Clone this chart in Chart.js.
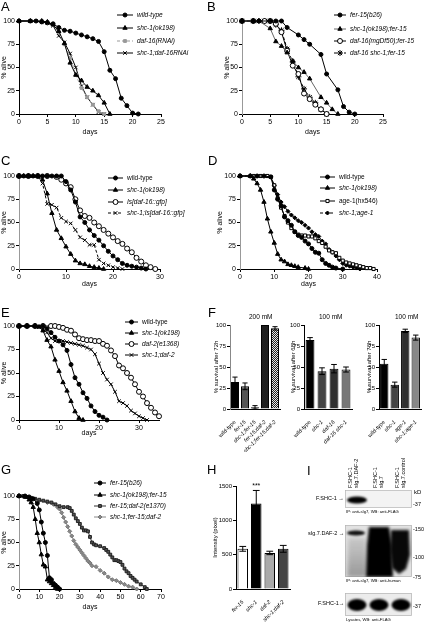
<!DOCTYPE html>
<html>
<head>
<meta charset="utf-8">
<script src="https://cdn.jsdelivr.net/npm/chart.js@4.4.0/dist/chart.umd.min.js"></script>
<style>
  body { margin: 0; background: #fff; }
  #fig { position: relative; width: 426px; height: 626px; overflow: hidden; background: #fff;
         font-family: "Liberation Sans", Arial, Helvetica, sans-serif; color: #000; }
  .cv { position: absolute; }
  .letter { position: absolute; font-size: 13px; line-height: 13px; }
  .t { position: absolute; white-space: nowrap; line-height: 1; }
</style>
</head>
<body>
<div id="fig"></div>
<script>
// ---- survival data: [day, % alive] ----
const aWildType = [[0,100],[2,100],[3,100],[4,99],[5,98],[6,97],[7,93],[8,90],[9,89],[10,87],[11,85],[12,83],[13,81],[14,78],[15,67],[16,47],[17,38],[18,17],[19,9],[20,1],[21,0]];
const aShc1 = [[0,100],[2,100],[4,100],[5,99],[6,96],[7,89],[8,76],[9,55],[10,42],[11,36],[12,29],[13,25],[14,20],[15,12],[16,0]];
const aDaf16 = [[0,100],[2,100],[3,100],[4,100],[5,99],[6,96],[7,88],[8,75],[9,60],[10,42],[11,28],[12,18],[13,10],[14,3],[15,0]];
const aShc1Daf16 = [[0,100],[2,100],[4,99],[5,98],[6,95],[7,84],[8,77],[9,65],[10,50],[11,30],[12,18],[13,10],[14,2],[15,0]];

const bFer15 = [[0,100],[2,100],[3,100],[5,100],[6,100],[7,100],[8,93],[10,85],[11,80],[12,75],[14,64],[15,43],[17,26],[18,8],[19,2],[20,0]];
const bShc1Fer15 = [[0,100],[2,100],[3,100],[5,92],[6,78],[7,73],[8,66],[9,57],[10,50],[11,45],[12,38],[14,18],[15,12],[16,5],[17,0]];
const bDaf16Fer15 = [[0,100],[2,100],[4,100],[5,100],[6,97],[7,88],[8,68],[9,52],[10,43],[11,22],[12,16],[13,10],[14,5],[15,0]];
const bDaf16Shc1Fer15 = [[0,100],[2,100],[3,100],[4,100],[5,100],[6,96],[7,90],[8,70],[9,56],[10,40],[11,27],[12,18],[13,12],[14,5],[15,0]];

const cWildType = [[0,100],[1,100],[2,100],[3,100],[4,100],[5,100],[6,100],[7,100],[8,100],[9,100],[10,94],[11,85],[12,72],[13,56],[14,50],[15,42],[16,36],[17,31],[18,25],[19,19],[20,14],[21,10],[22,6],[23,4],[24,3],[25,2],[26,1],[27,0]];
const cShc1 = [[0,100],[1,100],[2,100],[3,100],[4,100],[5,96],[6,81],[7,60],[8,42],[9,33],[10,24],[11,16],[12,9],[13,6],[14,5],[15,3],[16,2],[17,1],[18,0]];
const cIsDaf16 = [[0,100],[2,100],[4,100],[6,100],[8,99],[9,96],[10,92],[11,88],[12,75],[13,63],[14,57],[15,55],[16,50],[17,46],[18,42],[19,38],[20,34],[21,30],[22,27],[23,22],[24,18],[25,12],[26,8],[27,4],[28,2],[29,0]];
const cShc1IsDaf16 = [[0,100],[2,100],[4,100],[5,92],[6,70],[7,69],[8,66],[9,55],[10,51],[11,49],[12,42],[13,34],[14,31],[15,26],[16,26],[17,10],[18,6],[19,4],[20,2],[21,1],[22,0]];

const dWildType = [[0,100],[3,100],[5,100],[7,100],[9,99],[10,85],[11,75],[12,68],[13,56],[14,52],[15,47],[16,40],[17,36],[18,34],[19,30],[20,27],[21,22],[22,18],[23,17],[24,10],[25,6],[26,4],[27,2],[28,1],[30,0]];
const dShc1 = [[0,100],[3,100],[4,97],[5,92],[6,85],[7,72],[8,54],[9,40],[10,28],[11,16],[12,10],[13,8],[14,5],[15,4],[16,3],[17,2],[19,1],[20,0]];
const dAge1 = [[0,100],[4,100],[6,100],[8,100],[9,99],[10,90],[11,76],[12,66],[13,57],[14,50],[15,44],[16,40],[17,37],[18,36],[19,36],[20,35],[21,35],[22,33],[23,30],[24,28],[25,24],[26,20],[27,18],[28,17],[29,12],[30,9],[31,7],[32,6],[33,5],[34,4],[35,3],[36,2],[37,1],[38,1],[39,0]];
const dShc1Age1 = [[0,100],[5,100],[8,100],[9,99],[10,90],[11,80],[12,72],[13,67],[14,62],[15,58],[16,55],[17,52],[18,50],[19,47],[20,44],[21,40],[22,37],[23,35],[24,30],[25,27],[26,21],[27,18],[28,14],[29,10],[30,6],[31,4],[32,3],[33,2],[34,1],[35,0]];

const eWildType = [[0,100],[2,100],[4,100],[6,100],[7,97],[8,93],[9,88],[10,84],[11,80],[12,74],[13,59],[14,45],[15,38],[16,29],[17,23],[18,15],[19,9],[20,5],[21,3],[22,0]];
const eShc1 = [[0,100],[2,100],[4,100],[5,99],[6,95],[7,85],[8,78],[9,64],[10,52],[11,40],[12,31],[13,20],[14,9],[15,2],[16,0]];
const eDaf2 = [[0,100],[2,100],[4,100],[6,100],[8,100],[9,100],[10,99],[11,98],[12,96],[13,95],[14,91],[15,87],[16,86],[17,85],[18,85],[19,84],[20,84],[21,81],[22,79],[23,74],[24,68],[25,58],[26,55],[27,50],[28,45],[29,38],[30,30],[31,25],[32,18],[33,13],[34,8],[35,4],[36,0]];
const eShc1Daf2 = [[0,100],[2,100],[4,100],[5,99],[6,97],[7,93],[8,87],[9,84],[10,84],[11,84],[12,83],[13,82],[14,81],[15,80],[16,79],[17,77],[18,75],[19,70],[20,60],[21,50],[22,43],[23,38],[24,30],[25,20],[26,18],[27,15],[28,10],[29,7],[30,4],[31,2],[32,0]];

const gFer15 = [[0,100],[3,100],[5,99],[7,97],[9,92],[10,85],[11,72],[12,60],[13,50],[14,36],[15,12],[16,10],[17,6],[18,4],[19,2],[20,0]];
const gShc1Fer15 = [[0,100],[3,99],[5,96],[6,93],[7,88],[8,75],[9,60],[10,50],[11,37],[12,26],[13,24],[14,10],[15,8],[16,6],[17,4],[18,2],[19,0]];
const gFer15Daf2 = [[0,100],[2,100],[4,99],[6,98],[8,97],[10,96],[12,95],[14,94],[16,93],[18,91],[20,89],[22,88],[24,88],[25,87],[26,84],[27,80],[28,76],[29,73],[30,70],[31,66],[32,63],[33,63],[34,62],[35,56],[36,50],[37,48],[38,47],[40,46],[42,44],[43,42],[44,40],[45,37],[46,34],[47,31],[48,31],[49,30],[50,29],[51,26],[52,22],[53,19],[54,17],[55,14],[56,12],[57,10],[58,8],[60,5],[62,2],[63,0]];
const gShc1Fer15Daf2 = [[0,100],[3,99],[6,97],[10,95],[14,93],[17,91],[19,88],[20,86],[21,82],[22,77],[23,72],[24,67],[25,62],[26,57],[27,52],[28,48],[29,45],[30,42],[31,39],[32,36],[33,33],[34,30],[35,28],[36,25],[38,24],[40,20],[42,17],[44,13],[46,10],[48,9],[50,7],[52,5],[54,3],[56,2],[58,0]];

// ---- bar data ----
const fLabels1 = ['wild-type', 'fer-15', 'shc-1;fer-15', 'fer-15;daf-2', 'shc-1;fer-15;daf-2'];
const fValues1 = [32, 27, 2, 100, 96];
const fErrors1 = [6, 4, 2, 0, 2];
const fLabels2 = ['wild-type', 'shc-1', 'daf-16', 'daf-16 shc-1'];
const fValues2 = [82, 45, 48, 47];
const fErrors2 = [3, 4, 5, 3];
const fLabels3 = ['wild-type', 'shc-1', 'age-1', 'shc-1;age-1'];
const fValues3 = [54, 29, 93, 85];
const fErrors3 = [5, 3, 2, 3];
const hLabels = ['fer-15', 'shc-1', 'daf-2', 'shc-1;daf-2'];
const hValues = [585, 1245, 525, 585];
const hErrors = [35, 190, 25, 50];
const hStars = ['', '***', '', ''];
const pctTicks = [0, 25, 50, 75, 100];

Chart.defaults.font.family = '"Liberation Sans", Arial, Helvetica, sans-serif';
Chart.defaults.color = '#000';

const fig = document.getElementById('fig');

function addCanvas(l, t, w, h) {
  const c = document.createElement('canvas');
  c.width = w; c.height = h; c.className = 'cv';
  c.style.left = l + 'px'; c.style.top = t + 'px';
  c.style.width = w + 'px'; c.style.height = h + 'px';
  fig.appendChild(c);
  return c;
}

function addText(txt, x, y, size, extra) {
  const d = document.createElement('div');
  d.className = 't';
  d.textContent = txt;
  d.style.fontSize = size + 'px';
  d.style.left = x + 'px';
  d.style.top = y + 'px';
  if (extra) Object.assign(d.style, extra);
  fig.appendChild(d);
  return d;
}

// legend drawn Prism-style: line with the marker on it, then the name
const lineLegend = {
  id: 'lineLegend',
  afterDraw(chart, args, opts) {
    if (!opts || opts.x === undefined) return;
    const ctx = chart.ctx;
    chart.data.datasets.forEach((ds, i) => {
      const y = opts.y[i];
      ctx.save();
      ctx.lineWidth = 1;
      ctx.strokeStyle = ds.borderColor;
      ctx.setLineDash(ds.borderDash || []);
      ctx.beginPath();
      ctx.moveTo(opts.x, y);
      ctx.lineTo(opts.x + opts.len, y);
      ctx.stroke();
      ctx.setLineDash([]);
      ctx.fillStyle = ds.pointBackgroundColor;
      ctx.strokeStyle = ds.pointBorderColor;
      Chart.helpers.drawPoint(ctx, { pointStyle: ds.pointStyle, radius: ds.pointRadius, borderWidth: 1, rotation: 0 },
        opts.x + opts.len / 2, y);
      ctx.fillStyle = '#000';
      ctx.font = (ds.italic ? 'italic ' : '') + '6.5px "Liberation Sans", Arial, sans-serif';
      ctx.textBaseline = 'middle';
      ctx.textAlign = 'left';
      ctx.fillText(ds.label, opts.x + opts.len + 4, y + 0.5);
      ctx.restore();
    });
  }
};

const errorBars = {
  id: 'errorBars',
  afterDatasetsDraw(chart) {
    const ctx = chart.ctx, ys = chart.scales.y;
    chart.data.datasets.forEach((ds, i) => {
      if (!ds.errors) return;
      chart.getDatasetMeta(i).data.forEach((bar, j) => {
        const v = ds.data[j], e = ds.errors[j];
        const top = ys.getPixelForValue(v + e);
        const bot = ys.getPixelForValue(Math.max(0, v - e));
        const w = bar.width * 0.32;
        ctx.save();
        ctx.strokeStyle = '#000';
        ctx.lineWidth = 1;
        if (e > 0) {
          ctx.beginPath();
          ctx.moveTo(bar.x, top); ctx.lineTo(bar.x, bot);
          ctx.moveTo(bar.x - w, top); ctx.lineTo(bar.x + w, top);
          ctx.moveTo(bar.x - w, bot); ctx.lineTo(bar.x + w, bot);
          ctx.stroke();
        }
        if (ds.stars && ds.stars[j]) {
          ctx.fillStyle = '#000';
          ctx.font = '7px "Liberation Sans", Arial, sans-serif';
          ctx.textAlign = 'center';
          ctx.textBaseline = 'bottom';
          ctx.fillText(ds.stars[j], bar.x, top - 1);
        }
        ctx.restore();
      });
    });
  }
};

function survival(o) {
  const cv = addCanvas(o.left, o.top, o.width, o.height);
  const datasets = o.series.map(s => ({
    label: s.label,
    data: s.data.map(p => ({ x: p[0], y: p[1] })),
    borderColor: s.line || '#000',
    borderWidth: 1,
    borderDash: s.dash || [],
    pointStyle: s.style,
    pointRadius: s.r || 2,
    pointBackgroundColor: s.fill || '#000',
    pointBorderColor: s.edge || s.line || '#000',
    pointBorderWidth: 1,
    italic: s.italic !== false,
    fill: false,
    tension: 0,
    clip: false
  }));
  return new Chart(cv, {
    type: 'line',
    data: { datasets },
    options: {
      responsive: false, animation: false, events: [],
      layout: { padding: { left: 0, bottom: 0, top: o.plotT - o.top, right: o.left + o.width - o.plotR } },
      plugins: {
        legend: { display: false },
        tooltip: { enabled: false },
        lineLegend: { x: o.legend.x - o.left, len: o.legend.len, y: o.legend.y.map(v => v - o.top) }
      },
      scales: {
        x: {
          type: 'linear', min: 0, max: o.xMax,
          ticks: { stepSize: o.xStep, includeBounds: false, maxRotation: 0, font: { size: 7 }, padding: 1 },
          grid: { drawOnChartArea: false, drawTicks: true, tickLength: 3, color: '#000' },
          border: { color: '#000', width: 1 },
          title: { display: true, text: 'days', font: { size: 7 }, padding: 0 },
          afterFit: s => { s.height = o.top + o.height - o.plotB; s.paddingLeft = 0; s.paddingRight = 0; }
        },
        y: {
          min: 0, max: 100,
          afterBuildTicks: s => { s.ticks = pctTicks.map(v => ({ value: v })); },
          ticks: { font: { size: 7 }, padding: 1 },
          grid: { drawOnChartArea: false, drawTicks: true, tickLength: 3, color: '#000' },
          border: { color: o.yAxisColor || '#000', width: 1 },
          title: { display: true, text: '% alive', font: { size: 7 }, padding: { top: o.titlePad || 0, bottom: 0 } },
          afterFit: s => { s.width = o.plotL - o.left; s.paddingTop = 0; s.paddingBottom = 0; }
        }
      }
    },
    plugins: [lineLegend]
  });
}

function bars(o) {
  const cv = addCanvas(o.left, o.top, o.width, o.height);
  const colors = typeof o.colors === 'function' ? o.colors(cv.getContext('2d')) : o.colors;
  return new Chart(cv, {
    type: 'bar',
    data: {
      labels: o.labels,
      datasets: [{
        data: o.values, errors: o.errors, stars: o.stars,
        backgroundColor: colors, borderColor: '#000', borderWidth: 1,
        categoryPercentage: o.cat, barPercentage: 1
      }]
    },
    options: {
      responsive: false, animation: false, events: [],
      layout: { padding: { left: 0, bottom: 0, top: o.plotT - o.top, right: o.left + o.width - o.plotR } },
      plugins: { legend: { display: false }, tooltip: { enabled: false } },
      scales: {
        x: {
          ticks: {
            autoSkip: false, minRotation: 45, maxRotation: 45, padding: 2,
            font: c => ({ size: 5.5, style: (o.upright === c.index) ? 'normal' : 'italic' })
          },
          grid: { display: false },
          border: { color: '#000', width: 1 },
          afterFit: s => { s.height = o.top + o.height - o.plotB; s.paddingLeft = 0; s.paddingRight = 0; }
        },
        y: {
          min: 0, max: o.yMax,
          ticks: { stepSize: o.yStep, font: { size: 6 }, padding: 1, callback: v => String(v) },
          grid: { drawOnChartArea: false, drawTicks: true, tickLength: 3, color: '#000' },
          border: { color: o.axisColor || '#000', width: 1 },
          title: { display: true, text: o.yTitle, font: { size: 6 }, padding: { top: o.titlePad || 0, bottom: 0 } },
          afterFit: s => { s.width = o.plotL - o.left; s.paddingTop = 0; s.paddingBottom = 0; }
        }
      }
    },
    plugins: [errorBars]
  });
}

// ---------- A ----------
survival({
  left: 0, top: 6, width: 210, height: 130, plotL: 19, plotR: 161, plotT: 21, plotB: 114,
  xMax: 25, xStep: 5,
  legend: { x: 117, len: 16, y: [15, 28, 41, 53] },
  series: [
    { label: 'wild-type', data: aWildType, style: 'circle' },
    { label: 'shc-1(ok198)', data: aShc1, style: 'triangle', r: 2.5 },
    { label: 'daf-16(RNAi)', data: aDaf16, style: 'rect', line: '#999', fill: '#999', dash: [3, 2] },
    { label: 'shc-1;daf-16RNAi', data: aShc1Daf16, style: 'crossRot', r: 2.5 }
  ]
});

// ---------- B ----------
survival({
  left: 213, top: 6, width: 213, height: 130, plotL: 242, plotR: 383, plotT: 21, plotB: 114,
  xMax: 25, xStep: 5, yAxisColor: '#999', titlePad: 10,
  legend: { x: 334, len: 12, y: [15, 29, 41, 53] },
  series: [
    { label: 'fer-15(b26)', data: bFer15, style: 'circle' },
    { label: 'shc-1(ok198);fer-15', data: bShc1Fer15, style: 'triangle', r: 2.5, line: '#666', edge: '#000' },
    { label: 'daf-16(mgDf50);fer-15', data: bDaf16Fer15, style: 'circle', r: 2.5, fill: '#fff' },
    { label: 'daf-16 shc-1;fer-15', data: bDaf16Shc1Fer15, style: 'star', r: 3, dash: [3, 2] }
  ]
});

// ---------- C ----------
survival({
  left: 0, top: 150, width: 210, height: 138, plotL: 19, plotR: 160, plotT: 176, plotB: 269,
  xMax: 30, xStep: 10, yAxisColor: '#999',
  legend: { x: 108, len: 15, y: [178, 190, 202, 213] },
  series: [
    { label: 'wild-type', data: cWildType, style: 'circle', italic: false },
    { label: 'shc-1(ok198)', data: cShc1, style: 'triangle', r: 2.5 },
    { label: 'Is[daf-16::gfp]', data: cIsDaf16, style: 'circle', r: 2.5, fill: '#fff' },
    { label: 'shc-1;Is[daf-16::gfp]', data: cShc1IsDaf16, style: 'crossRot', r: 2.5, dash: [3, 2] }
  ]
});

// ---------- D ----------
survival({
  left: 213, top: 150, width: 213, height: 138, plotL: 240, plotR: 377, plotT: 176, plotB: 269,
  xMax: 40, xStep: 10, yAxisColor: '#999', titlePad: 3,
  legend: { x: 320, len: 15, y: [177, 188, 201, 213] },
  series: [
    { label: 'wild-type', data: dWildType, style: 'circle', italic: false },
    { label: 'shc-1(ok198)', data: dShc1, style: 'triangle', r: 2.5 },
    { label: 'age-1(hx546)', data: dAge1, style: 'rect', r: 2.2, fill: '#fff', italic: false },
    { label: 'shc-1;age-1', data: dShc1Age1, style: 'rectRot', r: 2, dash: [3, 2] }
  ]
});

// ---------- E ----------
survival({
  left: 0, top: 303, width: 210, height: 134, plotL: 19, plotR: 159, plotT: 326, plotB: 420,
  xMax: 35, xStep: 10,
  legend: { x: 125, len: 13, y: [322, 333, 344, 355] },
  series: [
    { label: 'wild-type', data: eWildType, style: 'circle', italic: false },
    { label: 'shc-1(ok198)', data: eShc1, style: 'triangle', r: 2.5 },
    { label: 'daf-2(e1368)', data: eDaf2, style: 'circle', r: 2.5, fill: '#fff' },
    { label: 'shc-1;daf-2', data: eShc1Daf2, style: 'crossRot', r: 2.5 }
  ]
});

// ---------- G ----------
survival({
  left: 0, top: 472, width: 210, height: 139, plotL: 19, plotR: 161, plotT: 496, plotB: 589,
  xMax: 70, xStep: 10, yAxisColor: '#999',
  legend: { x: 94, len: 12, y: [483, 495, 506, 517] },
  series: [
    { label: 'fer-15(b26)', data: gFer15, style: 'circle' },
    { label: 'shc-1(ok198);fer-15', data: gShc1Fer15, style: 'triangle', r: 2.5 },
    { label: 'fer-15;daf-2(e1370)', data: gFer15Daf2, style: 'rect', r: 2, line: '#333', fill: '#555', edge: '#222' },
    { label: 'shc-1;fer-15;daf-2', data: gShc1Fer15Daf2, style: 'rectRot', r: 2, line: '#888', fill: '#888', edge: '#777' }
  ]
});

// ---------- F ----------
function checker(ctx) {
  const p = document.createElement('canvas');
  p.width = 2; p.height = 2;
  const g = p.getContext('2d');
  g.fillStyle = '#e6e6e6'; g.fillRect(0, 0, 2, 2);
  g.fillStyle = '#222'; g.fillRect(0, 0, 1, 1); g.fillRect(1, 1, 1, 1);
  return ctx.createPattern(p, 'repeat');
}
bars({
  left: 213, top: 312, width: 70, height: 140, plotL: 230, plotR: 280, plotT: 325, plotB: 409,
  labels: fLabels1, values: fValues1, errors: fErrors1, upright: 0,
  colors: ctx => ['#000', '#555', '#222', '#1e1e1e', checker(ctx)],
  cat: 0.8, yMax: 100, yStep: 25, yTitle: '% survival after 72h', titlePad: 0, axisColor: '#888'
});
bars({
  left: 284, top: 312, width: 70, height: 140, plotL: 304, plotR: 352, plotT: 325, plotB: 409,
  labels: fLabels2, values: fValues2, errors: fErrors2, upright: 0,
  colors: ['#000', '#444', '#303030', '#777'],
  cat: 0.74, yMax: 100, yStep: 25, yTitle: '% survival after 68h', titlePad: 6
});
bars({
  left: 356, top: 312, width: 70, height: 140, plotL: 379, plotR: 421, plotT: 325, plotB: 409,
  labels: fLabels3, values: fValues3, errors: fErrors3, upright: 0,
  colors: ['#000', '#444', '#303030', '#888'],
  cat: 0.8, yMax: 100, yStep: 25, yTitle: '% survival after 76h', titlePad: 10
});
addText('200 mM', 249, 314, 6.5);
addText('100 mM', 319, 314, 6.5);
addText('100 mM', 395, 314, 6.5);

// ---------- H ----------
bars({
  left: 210, top: 470, width: 85, height: 156, plotL: 236, plotR: 290, plotT: 486, plotB: 589,
  labels: hLabels, values: hValues, errors: hErrors, stars: hStars, upright: -1,
  colors: ['#fff', '#000', '#aaa', '#444'],
  cat: 0.78, yMax: 1500, yStep: 500, yTitle: 'Intensity (pixel)', titlePad: 2
});

// ---------- I (blots) ----------
(function blots() {
  const c = addCanvas(300, 440, 126, 186);
  const ctx = c.getContext('2d');
  ctx.translate(-300, -440);
  function box(x0, y0, x1, y1, bg) {
    ctx.fillStyle = bg; ctx.fillRect(x0, y0, x1 - x0, y1 - y0);
    ctx.strokeStyle = '#b5b5b5'; ctx.lineWidth = 0.7;
    ctx.strokeRect(x0 + 0.5, y0 + 0.5, x1 - x0 - 1, y1 - y0 - 1);
  }
  function blob(cx, cy, rx, ry, col, blur) {
    ctx.save(); ctx.filter = 'blur(' + blur + 'px)'; ctx.fillStyle = col;
    ctx.beginPath(); ctx.ellipse(cx, cy, rx, ry, 0, 0, Math.PI * 2); ctx.fill(); ctx.restore();
  }
  function poly(pts, col, blur) {
    ctx.save(); ctx.filter = 'blur(' + blur + 'px)'; ctx.fillStyle = col;
    ctx.beginPath(); ctx.moveTo(pts[0][0], pts[0][1]);
    pts.slice(1).forEach(p => ctx.lineTo(p[0], p[1]));
    ctx.closePath(); ctx.fill(); ctx.restore();
  }
  // blot 1
  box(345, 490, 412, 508, '#f3f3f3');
  ctx.save(); ctx.beginPath(); ctx.rect(345, 490, 67, 18); ctx.clip();
  blob(357, 500, 10, 3.6, '#000', 1);
  ctx.restore();
  // blot 2
  box(345, 525, 412, 577, '#e2e2e2');
  ctx.save(); ctx.beginPath(); ctx.rect(345, 525, 67, 52); ctx.clip();
  const gr = ctx.createLinearGradient(0, 538, 0, 577);
  gr.addColorStop(0, 'rgba(120,120,120,0.25)'); gr.addColorStop(1, 'rgba(90,90,90,0.55)');
  poly([[348, 538], [366, 538], [367, 577], [347, 577]], gr, 2);
  blob(356, 533, 9, 2.4, '#111', 0.8);
  poly([[369, 527], [389, 527], [392, 545], [393, 577], [366, 577], [367, 545]], '#000', 1.5);
  poly([[391, 530], [409, 530], [410, 555], [406, 569], [399, 574], [392, 568], [390, 550]], '#080808', 1.5);
  ctx.restore();
  // blot 3
  box(345, 593, 412, 616, '#ececec');
  ctx.save(); ctx.beginPath(); ctx.rect(345, 593, 67, 23); ctx.clip();
  blob(357, 605, 9.5, 6, '#000', 1.2);
  blob(379, 605, 9.5, 6, '#000', 1.2);
  blob(401, 605, 9.5, 6, '#000', 1.2);
  ctx.restore();
})();

function vtext(lines, cx, yBottom, size) {
  const d = addText('', 0, 0, size, { transformOrigin: '0 0', transform: 'rotate(-90deg)', lineHeight: '1.1' });
  d.innerHTML = lines.join('<br>');
  const h = d.offsetHeight;
  d.style.left = (cx - h / 2) + 'px';
  d.style.top = yBottom + 'px';
}
vtext(['F.SHC-1', 'sIg.7.DAF-2'], 353, 488, 5.5);
vtext(['F.SHC-1', 'sIg.7'], 378, 488, 5.5);
vtext(['F.SHC-1', 'sIg.7.control'], 400, 488, 5.5);

function rtext(txt, xRight, yMid, size) {
  const d = addText(txt, 0, 0, size);
  d.style.left = (xRight - d.offsetWidth) + 'px';
  d.style.top = (yMid - d.offsetHeight / 2) + 'px';
}
rtext('F.SHC-1 \u2192', 344, 499, 5.5);
rtext('sIg.7.DAF-2 \u2192', 344, 534, 5.5);
rtext('F.SHC-1\u2192', 344, 604, 5.5);
addText('kD', 414, 489, 6);
addText('-37', 413, 502, 5.5);
addText('-150', 413, 527, 5.5);
addText('-100', 413, 555, 5.5);
addText('-75', 413, 575, 5.5);
addText('-37', 413, 604, 5.5);
addText('IP: anti-sIg7, WB: anti-FLAG', 346, 510, 4.2);
addText('IP: anti-sIg7, WB: anti-human', 346, 579, 4.2);
addText('Lysates, WB: anti-FLAG', 346, 618, 4.2);

// ---------- panel letters ----------
[['A', 1, 0], ['B', 207, 0], ['C', 1, 154], ['D', 208, 154], ['E', 1, 306], ['F', 208, 306],
 ['G', 1, 463], ['H', 207, 463], ['I', 307, 464]].forEach(([t, x, y]) => {
  const d = document.createElement('div');
  d.className = 'letter'; d.textContent = t;
  d.style.left = x + 'px'; d.style.top = y + 'px';
  fig.appendChild(d);
});
</script>
</body>
</html>
